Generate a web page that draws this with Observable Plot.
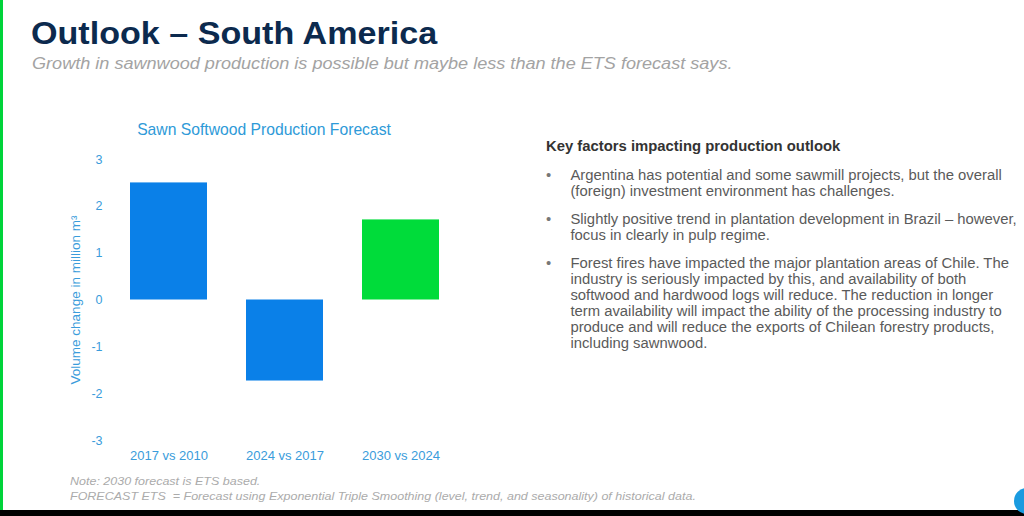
<!DOCTYPE html>
<html>
<head>
<meta charset="utf-8">
<script src="https://cdn.jsdelivr.net/npm/d3@7"></script>
<script src="https://cdn.jsdelivr.net/npm/@observablehq/plot@0.6"></script>
<style>
  html, body { margin: 0; padding: 0; }
  body { width: 1024px; height: 516px; position: relative; overflow: hidden; background: #fff; font-family: "Liberation Sans", Arial, sans-serif; }
  .abs { position: absolute; white-space: nowrap; }
  #greenbar { left: 0; top: 0; width: 3px; height: 510px; background: #00d43a; }
  #blackbar { left: 0; top: 510px; width: 1024px; height: 6px; background: #000; }
  #icon { left: 1014px; top: 488px; width: 26px; height: 26px; border-radius: 50%; background: #1a9be0; }
  #title { left: 31px; top: 16px; font-size: 31px; font-weight: bold; color: #0c2a4e; transform: scaleX(1.1); transform-origin: left top; }
  #subtitle { left: 32px; top: 55px; font-size: 16px; font-style: italic; color: #a3a3a3; transform: scaleX(1.13); transform-origin: left top; }
  #charttitle { left: 264px; top: 121px; transform: translateX(-50%); font-size: 15.7px; color: #2e9ad8; }
  #chart { left: 60px; top: 140px; }
  #factors { left: 546px; top: 138px; font-size: 14px; color: #5a5a5a; transform: scaleX(1.06); transform-origin: left top; }
  #factors h4 { margin: 0 0 13px 0; font-size: 14px; font-weight: bold; color: #333; }
  #factors ul { margin: 0; padding: 0; list-style: none; }
  #factors li { position: relative; padding-left: 23px; line-height: 16px; margin-bottom: 12px; }
  #factors li::before { content: "•"; position: absolute; left: 0; top: 0; color: #777; }
  #notes { left: 70px; top: 474px; font-size: 10.5px; font-style: italic; color: #ababab; line-height: 15px; transform: scaleX(1.19); transform-origin: left top; }
</style>
</head>
<body>
<div id="greenbar" class="abs"></div>
<div id="blackbar" class="abs"></div>
<div id="icon" class="abs"></div>
<div id="title" class="abs">Outlook – South America</div>
<div id="subtitle" class="abs">Growth in sawnwood production is possible but maybe less than the ETS forecast says.</div>
<div id="charttitle" class="abs"></div>
<div id="chart" class="abs"></div>
<div id="factors" class="abs"><h4></h4><ul></ul></div>
<div id="notes" class="abs"></div>
<script>
// ---- data ----
const periods = ["2017 vs 2010", "2024 vs 2017", "2030 vs 2024"];
const volumeChange = [2.5, -1.73, 1.71];
const basis = ["Actual", "Actual", "ETS"];
const yTicks = [-3, -2, -1, 0, 1, 2, 3];
const chartTitle = "Sawn Softwood Production Forecast";
const yLabel = "Volume change in million m³";
const factorsHeading = "Key factors impacting production outlook";
const factors = [
  ["Argentina has potential and some sawmill projects, but the overall",
   "(foreign) investment environment has challenges."],
  ["Slightly positive trend in plantation development in Brazil – however,",
   "focus in clearly in pulp regime."],
  ["Forest fires have impacted the major plantation areas of Chile. The",
   "industry is seriously impacted by this, and availability of both",
   "softwood and hardwood logs will reduce. The reduction in longer",
   "term availability will impact the ability of the processing industry to",
   "produce and will reduce the exports of Chilean forestry products,",
   "including sawnwood."]
];
const notes = [
  "Note: 2030 forecast is ETS based.",
  "FORECAST ETS  = Forecast using Exponential Triple Smoothing (level, trend, and seasonality) of historical data."
];

const rows = periods.map((p, i) => ({period: p, value: volumeChange[i], basis: basis[i]}));

document.getElementById("charttitle").textContent = chartTitle;
document.querySelector("#factors h4").textContent = factorsHeading;
const ul = document.querySelector("#factors ul");
factors.forEach(lines => {
  const li = document.createElement("li");
  lines.forEach((t, i) => {
    if (i) li.appendChild(document.createElement("br"));
    li.appendChild(document.createTextNode(t));
  });
  ul.appendChild(li);
});
document.getElementById("notes").innerHTML = notes.map(n => `<div>${n.replace(/  /g, " &nbsp;")}</div>`).join("");

const axisColor = "#3a9cdb";
const plot = Plot.plot({
  width: 420,
  height: 330,
  marginLeft: 50,
  marginRight: 20,
  marginTop: 19,
  marginBottom: 30,
  style: { fontFamily: "Liberation Sans, Arial, sans-serif", fontSize: "13px", color: axisColor, background: "transparent", overflow: "visible" },
  x: { domain: periods, paddingInner: 0.333, paddingOuter: 0.1667, label: null },
  y: { domain: [-3, 3], label: null },
  color: { domain: ["Actual", "ETS"], range: ["#0a80e8", "#00dc3a"] },
  marks: [
    Plot.barY(rows, { x: "period", y: "value", fill: "basis" }),
    Plot.axisX({ tickSize: 0, tickPadding: 10, label: null, fill: axisColor, fontSize: 13 }),
    Plot.axisY({ ticks: yTicks, tickSize: 0, tickPadding: 8, fill: axisColor, fontSize: 12.5,
                 tickFormat: d => String(d), label: null }),
    Plot.text([yLabel], { text: d => d, frameAnchor: "left", textAnchor: "middle", rotate: -90, dx: -35,
                          fill: axisColor, fontSize: 13.5 })
  ]
});
document.getElementById("chart").appendChild(plot);
</script>
</body>
</html>
